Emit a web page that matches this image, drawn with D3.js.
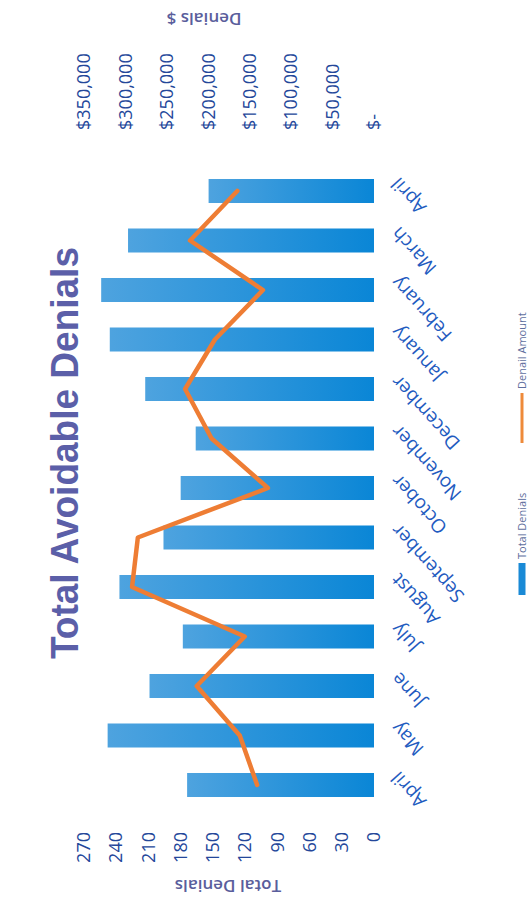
<!DOCTYPE html>
<html>
<head>
<meta charset="utf-8">
<script src="https://cdn.jsdelivr.net/npm/d3@7"></script>
<style>
  body { margin: 0; background: #fff; }
  svg { display: block; }
</style>
</head>
<body>
<div id="chart"></div>
<script>
const months = ["April", "May", "June", "July", "August", "September", "October",
                "November", "December", "January", "February", "March", "April"];
const totalDenials = [174, 248, 209, 178, 237, 196, 180, 166, 213, 246, 254, 229, 154];
const denialAmount = [141000, 162000, 214000, 156000, 292000, 285000, 128000,
                      196000, 228000, 192000, 134000, 222000, 165000];
const leftTicks = [0, 30, 60, 90, 120, 150, 180, 210, 240, 270];
const rightTicks = [0, 50000, 100000, 150000, 200000, 250000, 300000, 350000];

// the chart is drawn landscape (902 x 532) and turned a quarter left
const W = 902, H = 532;

const svg = d3.select("#chart").append("svg")
  .attr("width", 532)
  .attr("height", 902);

const defs = svg.append("defs");
const grad = defs.append("linearGradient")
  .attr("id", "barGrad")
  .attr("x1", 0).attr("y1", 0).attr("x2", 0).attr("y2", 1);
grad.append("stop").attr("offset", "0%").attr("stop-color", "#4ea3df");
grad.append("stop").attr("offset", "100%").attr("stop-color", "#0a86d6");

const g = svg.append("g")
  .attr("transform", `translate(0,${W}) rotate(-90)`);

const step = 49.5;
const x = d3.scaleBand()
  .domain(d3.range(months.length))
  .range([117 - step / 2, 711 + step / 2])
  .paddingInner(0.515)
  .paddingOuter(0.2575);

const y = d3.scaleLinear().domain([0, 270]).range([374, 84]);
const y2 = d3.scaleLinear().domain([0, 350000]).range([374, 84]);

// title
g.append("text")
  .attr("x", 449)
  .attr("y", 78)
  .attr("text-anchor", "middle")
  .attr("textLength", 412)
  .attr("lengthAdjust", "spacingAndGlyphs")
  .style("font-family", "Liberation Sans, Arial, sans-serif")
  .style("font-weight", "bold")
  .style("font-size", "39px")
  .attr("fill", "#5b5fa8")
  .text("Total Avoidable Denials");

// bars
g.append("g")
  .selectAll("rect")
  .data(totalDenials)
  .join("rect")
  .attr("x", (d, i) => x(i))
  .attr("y", d => y(d))
  .attr("width", x.bandwidth())
  .attr("height", d => y(0) - y(d))
  .attr("fill", "url(#barGrad)");

// line
const line = d3.line()
  .x((d, i) => x(i) + x.bandwidth() / 2)
  .y(d => y2(d));

g.append("path")
  .datum(denialAmount)
  .attr("fill", "none")
  .attr("stroke", "#ee7d34")
  .attr("stroke-width", 4.5)
  .attr("stroke-linejoin", "round")
  .attr("stroke-linecap", "round")
  .attr("d", line);

// left axis
const leftAxis = g.append("g")
  .attr("transform", "translate(74,0)")
  .call(d3.axisLeft(y).tickValues(leftTicks).tickSize(0).tickPadding(4));
leftAxis.select(".domain").remove();
leftAxis.selectAll("text")
  .style("font-family", "Open Sans, sans-serif")
  .style("font-size", "18px")
  .attr("fill", "#24479a");

// right axis
const rightAxis = g.append("g")
  .attr("transform", "translate(768,0)")
  .call(d3.axisRight(y2).tickValues(rightTicks).tickSize(0).tickPadding(4)
    .tickFormat(d => d === 0 ? "$-" : d3.format("$,")(d)));
rightAxis.select(".domain").remove();
rightAxis.selectAll("text")
  .style("font-family", "Open Sans, sans-serif")
  .style("font-size", "18px")
  .attr("fill", "#24479a");

// month labels
g.append("g")
  .selectAll("text")
  .data(months)
  .join("text")
  .attr("transform", (d, i) => `translate(${x(i) + x.bandwidth() / 2 + 6},390) rotate(-42)`)
  .attr("text-anchor", "end")
  .attr("dy", "0.7em")
  .style("font-family", "Open Sans, sans-serif")
  .style("font-size", "19px")
  .attr("fill", "#1f5bc0")
  .text(d => d);

// axis titles
g.append("text")
  .attr("transform", "translate(22,228) rotate(-90)")
  .attr("text-anchor", "middle")
  .style("font-family", "Open Sans, sans-serif")
  .style("font-size", "17px")
  .style("font-weight", "600")
  .attr("fill", "#5a5e9c")
  .text("Total Denials");

g.append("text")
  .attr("transform", "translate(889,204) rotate(-90)")
  .attr("text-anchor", "middle")
  .style("font-family", "Open Sans, sans-serif")
  .style("font-size", "17px")
  .style("font-weight", "600")
  .attr("fill", "#5a5e9c")
  .text("Denials $");

// legend
const legend = g.append("g").attr("transform", "translate(0,522)");
legend.append("rect")
  .attr("x", 307).attr("y", -3.5)
  .attr("width", 32).attr("height", 7)
  .attr("fill", "#1a8ad6");
legend.append("text")
  .attr("x", 343).attr("dy", "0.35em")
  .style("font-family", "Open Sans, sans-serif")
  .style("font-size", "11px")
  .attr("fill", "#5f6f9e")
  .text("Total Denials");
legend.append("line")
  .attr("x1", 459).attr("x2", 509)
  .attr("stroke", "#ee8a3a")
  .attr("stroke-width", 3);
legend.append("text")
  .attr("x", 513).attr("dy", "0.35em")
  .style("font-family", "Open Sans, sans-serif")
  .style("font-size", "11px")
  .attr("fill", "#5f6f9e")
  .text("Denail Amount");
</script>
</body>
</html>
